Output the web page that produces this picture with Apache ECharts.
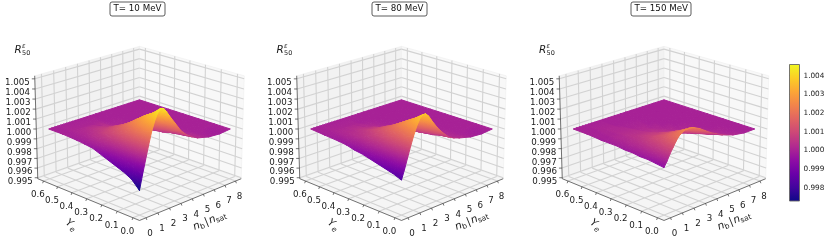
<!DOCTYPE html>
<html><head><meta charset="utf-8">
<style>html,body{margin:0;padding:0;background:#fff}#c{width:831px;height:251px}</style>
<script src="https://cdn.jsdelivr.net/npm/echarts@6/dist/echarts.min.js"></script>
</head><body><div id="c"></div>
<script>
// ---------- data ----------
const titles = ['T= 10 MeV', 'T= 80 MeV', 'T= 150 MeV'];
const nbValues = [0, 0.25, 0.5, 0.75, 1, 1.25, 1.5, 1.75, 2, 2.25, 2.5, 3, 3.5, 4, 4.5, 5, 6, 7, 8];
const yeValues = [0, 0.05, 0.1, 0.15, 0.2, 0.25, 0.3, 0.35, 0.4, 0.5, 0.6];
// rows follow yeValues, columns follow nbValues; R_50^eps - 1 in units of 1e-4
const r10 = [
  [-27, -13, 0, 13, 25, 34, 41, 44, 43, 39, 34, 25, 16, 10, 6, 3, 0, -1, 0],
  [-19, -9, 2, 12, 22, 30, 35, 37, 37, 34, 30, 22, 14, 9, 5, 3, 0, -1, 0],
  [-15, -6, 3, 11, 19, 25, 29, 32, 32, 29, 26, 19, 12, 7, 4, 2, 0, 0, 0],
  [-12, -4, 3, 10, 16, 20, 24, 26, 26, 24, 21, 15, 9, 5, 3, 1, 0, 0, 0],
  [-9, -3, 3, 8, 13, 16, 19, 20, 20, 18, 16, 11, 7, 4, 2, 1, 0, 0, 0],
  [-6, -1, 3, 7, 10, 12, 14, 15, 15, 13, 12, 8, 5, 3, 2, 1, 0, 0, 0],
  [-3, 0, 3, 5, 8, 9, 10, 11, 11, 10, 8, 6, 3, 2, 1, 0, 0, 0, 0],
  [-2, 0, 2, 4, 5, 6, 7, 7, 7, 6, 6, 4, 2, 1, 1, 0, 0, 0, 0],
  [-1, 0, 1, 2, 3, 4, 5, 5, 5, 4, 4, 2, 1, 1, 0, 0, 0, 0, 0],
  [0, 0, 0, 1, 1, 1, 1, 1, 1, 1, 1, 1, 0, 0, 0, 0, 0, 0, 0],
  [0, 0, 0, 0, 0, 0, 0, 0, 0, 0, 0, 0, 0, 0, 0, 0, 0, 0, 0]
];
const r80 = [
  [-17, -8, 2, 12, 21, 29, 35, 38, 38, 35, 30, 21, 14, 8, 5, 3, 0, -1, 0],
  [-14, -6, 2, 10, 18, 24, 30, 32, 32, 30, 26, 18, 11, 7, 4, 2, 0, -1, 0],
  [-12, -5, 2, 9, 15, 20, 25, 27, 27, 25, 22, 15, 9, 5, 3, 2, 0, 0, 0],
  [-10, -4, 2, 8, 13, 17, 20, 22, 22, 20, 18, 12, 7, 4, 2, 1, 0, 0, 0],
  [-8, -3, 2, 6, 10, 13, 16, 17, 17, 15, 14, 9, 6, 3, 2, 1, 0, 0, 0],
  [-6, -2, 2, 5, 8, 10, 12, 13, 13, 11, 10, 7, 4, 2, 1, 0, 0, 0, 0],
  [-5, -2, 1, 4, 6, 7, 9, 9, 9, 8, 7, 5, 3, 1, 1, 0, 0, 0, 0],
  [-3, -1, 1, 3, 4, 5, 6, 6, 6, 6, 5, 3, 2, 1, 0, 0, 0, 0, 0],
  [-2, -1, 1, 2, 3, 3, 4, 4, 4, 3, 3, 2, 1, 0, 0, 0, 0, 0, 0],
  [-1, 0, 0, 1, 1, 1, 1, 1, 1, 1, 1, 0, 0, 0, 0, 0, 0, 0, 0],
  [0, 0, 0, 0, 0, 0, 0, 0, 0, 0, 0, 0, 0, 0, 0, 0, 0, 0, 0]
];
const r150 = [
  [-5, 0, 6, 11, 16, 20, 22, 24, 24, 24, 23, 20, 16, 12, 9, 6, 2, 0, 0],
  [-4, 0, 5, 9, 13, 16, 18, 19, 19, 19, 18, 16, 12, 9, 6, 4, 1, 0, 0],
  [-3, 0, 4, 7, 10, 12, 14, 15, 15, 15, 14, 12, 9, 6, 4, 3, 1, 0, 0],
  [-3, 0, 3, 6, 8, 10, 11, 11, 11, 11, 10, 9, 6, 4, 3, 2, 0, 0, 0],
  [-2, 0, 2, 4, 6, 7, 8, 8, 8, 8, 7, 6, 4, 3, 2, 1, 0, 0, 0],
  [-2, 0, 2, 3, 4, 5, 6, 6, 6, 6, 5, 4, 3, 2, 1, 1, 0, 0, 0],
  [-1, 0, 1, 2, 3, 4, 4, 4, 4, 4, 3, 3, 2, 1, 1, 0, 0, 0, 0],
  [-1, 0, 1, 2, 2, 3, 3, 3, 3, 3, 2, 2, 1, 1, 0, 0, 0, 0, 0],
  [-1, 0, 0, 1, 1, 2, 2, 2, 2, 2, 1, 1, 1, 0, 0, 0, 0, 0, 0],
  [0, 0, 0, 0, 1, 1, 1, 1, 1, 0, 0, 0, 0, 0, 0, 0, 0, 0, 0],
  [0, 0, 0, 0, 0, 0, 0, 0, 0, 0, 0, 0, 0, 0, 0, 0, 0, 0, 0]
];
const surfaces = [r10, r80, r150];
const nbTicks = [0, 1, 2, 3, 4, 5, 6, 7, 8];
const yeTicks = [0, 0.1, 0.2, 0.3, 0.4, 0.5, 0.6];
const zTicks = [0.995, 0.996, 0.997, 0.998, 0.999, 1, 1.001, 1.002, 1.003, 1.004, 1.005];
const barTicks = [0.998, 0.999, 1, 1.001, 1.002, 1.003, 1.004];
const barRange = [0.9973, 1.0046];
const plasma = ['#0d0887', '#41049d', '#6a00a8', '#8f0da4', '#b12a90', '#cc4778', '#e16462', '#f2844b', '#fca636', '#fcce25', '#f0f921'];

// ---------- 3-D view (elevation, azimuth, box limits) ----------
const elev = 20 * Math.PI / 180;
const nbLim = [-0.545, 8.545], yeLim = [-0.041, 0.641], zLim = [0.9949, 1.0053];
const boxH = 0.75, eyeDist = 8.7, S = 146, cy = 128;
const centers = [139.5, 401.5, 664];
const FONT = '"DejaVu Sans"';
const s = Math.sin(elev), c = Math.cos(elev), q = Math.SQRT1_2;
const norm = (v, l) => (v - l[0]) / (l[1] - l[0]);
function view(nb, ye, z) { // returns view-plane coordinates used on the hidden axes
  const X = norm(nb, nbLim) - 0.5, Y = norm(ye, yeLim) - 0.5, Z = (norm(z, zLim) - 0.5) * boxH;
  const d = -q * c * X - q * c * Y + s * Z;
  const f = eyeDist / (eyeDist - d);
  return { p: [f * q * (X - Y), f * (q * s * (X + Y) + c * Z)], d };
}
const toR = d => 1 + d * 1e-4;
const colorOf = v => echarts.color.lerp(Math.max(0, Math.min(1, norm(v, barRange))), plasma);

function triStyle(P, V) {
  const [a, b, d] = P, [va, vb, vd] = V;
  const det = (b[0] - a[0]) * (d[1] - a[1]) - (d[0] - a[0]) * (b[1] - a[1]);
  const lo = Math.min(va, vb, vd), hi = Math.max(va, vb, vd);
  if (Math.abs(det) < 1e-6 || hi - lo < 1e-9) return colorOf((lo + hi) / 2);
  const gx = ((vb - va) * (d[1] - a[1]) - (vd - va) * (b[1] - a[1])) / det;
  const gy = ((vd - va) * (b[0] - a[0]) - (vb - va) * (d[0] - a[0])) / det;
  const g2 = gx * gx + gy * gy;
  const k = V.indexOf(lo), p0 = P[k], t = (hi - lo) / g2;
  const stops = [0, 0.25, 0.5, 0.75, 1].map(o => ({ offset: o, color: colorOf(lo + o * (hi - lo)) }));
  return new echarts.graphic.LinearGradient(p0[0], p0[1], p0[0] + gx * t, p0[1] + gy * t, stops, true);
}

const grids = [], xAxes = [], yAxes = [], series = [];
const hidden = { show: false };

centers.forEach((xc, pi) => {
  grids.push({ left: xc - 131, top: 0, width: 262, height: 251 });
  xAxes.push({ type: 'value', gridIndex: pi, min: -131 / S, max: 131 / S, ...hidden });
  yAxes.push({ type: 'value', gridIndex: pi, min: (cy - 251) / S, max: cy / S, ...hidden });
  const base = { type: 'custom', coordinateSystem: 'cartesian2d', xAxisIndex: pi, yAxisIndex: pi, silent: true, clip: false, animation: false };

  // panes and grid lines
  series.push({ ...base, z: 2, data: [[0, 0]], renderItem: (p, api) => {
    const pt = (n, y, z) => api.coord(view(n, y, z).p);
    const [n0, n1] = nbLim, [y0, y1] = yeLim, [z0, z1] = zLim;
    const kids = [];
    const poly = (pts, fill) => kids.push({ type: 'polygon', shape: { points: pts }, style: { fill, stroke: '#ededed', lineWidth: 0.5 } });
    poly([pt(n0, y1, z0), pt(n1, y1, z0), pt(n1, y1, z1), pt(n0, y1, z1)], '#f2f2f2');
    poly([pt(n1, y0, z0), pt(n1, y1, z0), pt(n1, y1, z1), pt(n1, y0, z1)], '#f8f8f8');
    poly([pt(n0, y0, z0), pt(n1, y0, z0), pt(n1, y1, z0), pt(n0, y1, z0)], '#f5f5f5');
    const line = (a, b) => kids.push({ type: 'line', shape: { x1: a[0], y1: a[1], x2: b[0], y2: b[1] }, style: { stroke: '#d2d2d2', lineWidth: 1.1 } });
    nbTicks.forEach(n => { line(pt(n, y0, z0), pt(n, y1, z0)); line(pt(n, y1, z0), pt(n, y1, z1)); });
    yeTicks.forEach(y => { line(pt(n0, y, z0), pt(n1, y, z0)); line(pt(n1, y, z0), pt(n1, y, z1)); });
    zTicks.forEach(z => { line(pt(n0, y1, z), pt(n1, y1, z)); line(pt(n1, y1, z), pt(n1, y0, z)); });
    return { type: 'group', children: kids };
  } });

  // surface triangles, far to near
  const M = surfaces[pi], tris = [];
  for (let i = 0; i < yeValues.length - 1; i++) for (let j = 0; j < nbValues.length - 1; j++) {
    [[[i, j], [i + 1, j], [i + 1, j + 1]], [[i, j], [i + 1, j + 1], [i, j + 1]]].forEach((t, k) => {
      const depth = t.reduce((a, [r, m]) => a + view(nbValues[m], yeValues[r], toR(M[r][m])).d, 0);
      tris.push({ value: [i, j, k], depth });
    });
  }
  tris.sort((a, b) => a.depth - b.depth);
  series.push({ ...base, z: 3, data: tris.map(t => t.value), renderItem: (p, api) => {
    const i = api.value(0), j = api.value(1), k = api.value(2);
    const idx = k === 0 ? [[i, j], [i + 1, j], [i + 1, j + 1]] : [[i, j], [i + 1, j + 1], [i, j + 1]];
    const V = idx.map(([r, m]) => toR(M[r][m]));
    const P = idx.map(([r, m], n) => api.coord(view(nbValues[m], yeValues[r], V[n]).p));
    const fill = triStyle(P, V);
    return { type: 'polygon', shape: { points: P }, style: { fill, stroke: fill, lineWidth: 1, lineJoin: 'round' } };
  } });

  // axes, ticks, labels
  series.push({ ...base, z: 4, data: [[0, 0]], renderItem: (p, api) => {
    const pt = (n, y, z) => api.coord(view(n, y, z).p);
    const [n0, n1] = nbLim, [y0, y1] = yeLim, [z0, z1] = zLim;
    const kids = [];
    const line = (a, b) => kids.push({ type: 'line', shape: { x1: a[0], y1: a[1], x2: b[0], y2: b[1] }, style: { stroke: '#3a3a3a', lineWidth: 0.7 } });
    const txt = (text, x, y, o = {}) => ({ type: 'text', x, y, rotation: o.rot || 0, style: { text, fill: '#1a1a1a', font: `${o.italic ? 'italic ' : ''}${o.size || 8.7}px ${FONT}`, align: o.align || 'center', verticalAlign: 'middle' } });
    line(pt(n0, y0, z0), pt(n1, y0, z0));
    line(pt(n0, y0, z0), pt(n0, y1, z0));
    line(pt(n0, y1, z0), pt(n0, y1, z1));
    nbTicks.forEach(n => { const a = pt(n, y0, z0); line(a, [a[0] + 0.8, a[1] + 2.2]); kids.push(txt(String(n), a[0] + 4, a[1] + 15.5)); });
    yeTicks.forEach(y => { const a = pt(n0, y, z0); line(a, [a[0] - 0.8, a[1] + 2.2]); kids.push(txt(y.toFixed(1), a[0] - 5.5, a[1] + 14)); });
    zTicks.forEach(z => { const a = pt(n0, y1, z); line(a, [a[0] - 3, a[1]]); kids.push(txt(z.toFixed(3), a[0] - 5, a[1] + 4, { align: 'right' })); });
    const o = pt(n0, y0, z0), X = o[0], Y = o[1];
    kids.push({ type: 'group', x: X - 73, y: Y + 1, rotation: -35 * Math.PI / 180, children: [
      txt('Y', 0, 0, { italic: true, size: 10.5, align: 'left' }), txt('e', 7, 3.5, { size: 7.5, align: 'left', italic: true })] });
    kids.push({ type: 'group', x: X + 54, y: Y + 7, rotation: 22 * Math.PI / 180, children: [
      txt('n', 0, 0, { italic: true, size: 10.5, align: 'left' }), txt('b', 6.5, 2.5, { size: 7.5, align: 'left' }),
      txt('|', 12.5, 0, { size: 10.5, align: 'left', italic: true }), txt('n', 17, 0, { italic: true, size: 10.5, align: 'left' }),
      txt('sat', 23.5, 2.5, { size: 7.5, align: 'left' })] });
    kids.push(txt('R', X - 125, 50, { italic: true, size: 10.4, align: 'left' }));
    kids.push(txt('ε', X - 117.5, 46.5, { italic: true, size: 6.5, align: 'left' }));
    kids.push(txt('50', X - 117.5, 53.5, { size: 6.5, align: 'left' }));
    return { type: 'group', children: kids };
  } });
});

// colour bar
grids.push({ left: 789.5, top: 64.5, width: 10, height: 136.5 });
xAxes.push({ type: 'value', gridIndex: 3, min: 0, max: 1, show: false });
yAxes.push({ type: 'value', gridIndex: 3, position: 'right', min: barRange[0], max: barRange[1], splitLine: { show: false },
  axisLine: { show: false },
  axisTick: { show: true, length: 2.5, customValues: barTicks, lineStyle: { color: '#333', width: 0.7 } },
  axisLabel: { customValues: barTicks, margin: 4, fontFamily: FONT, fontSize: 7.3, color: '#222', formatter: v => v.toFixed(3), showMinLabel: true, showMaxLabel: true } });
series.push({ type: 'custom', coordinateSystem: 'cartesian2d', xAxisIndex: 3, yAxisIndex: 3, silent: true, clip: false, animation: false, z: 3,
  data: [[0, barRange[0], 1, barRange[1]]], renderItem: (p, api) => {
    const a = api.coord([api.value(0), api.value(1)]), b = api.coord([api.value(2), api.value(3)]);
    const stops = plasma.map((col, i) => ({ offset: i / (plasma.length - 1), color: col }));
    return { type: 'rect', shape: { x: a[0], y: b[1], width: b[0] - a[0], height: a[1] - b[1] },
      style: { fill: new echarts.graphic.LinearGradient(0, 1, 0, 0, stops), stroke: '#666', lineWidth: 0.9 } };
  } });

const chart = echarts.init(document.getElementById('c'), null, { renderer: 'canvas' });
chart.setOption({
  animation: false, backgroundColor: '#fff',
  title: titles.map((t, i) => ({ text: t, left: [110, 372, 631][i], top: 2,
    padding: [2.5, 3.5], borderColor: '#333', borderWidth: 0.8, borderRadius: 2, textStyle: { fontFamily: FONT, fontSize: 8.7, fontWeight: 'normal', color: '#111' } })),
  grid: grids, xAxis: xAxes, yAxis: yAxes, series
});
</script></body></html>
